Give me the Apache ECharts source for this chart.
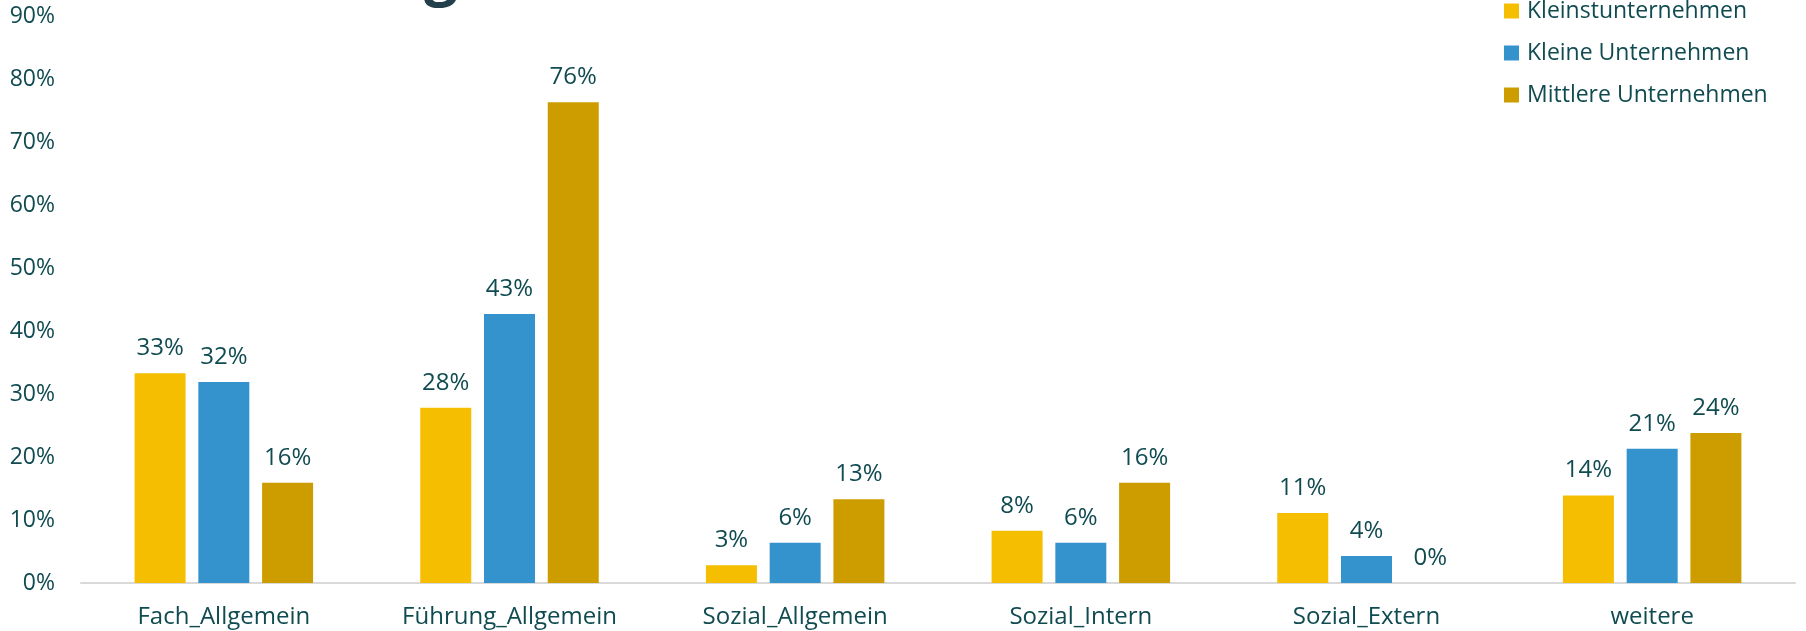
<!DOCTYPE html>
<html>
<head>
<meta charset="utf-8">
<script src="https://cdn.jsdelivr.net/npm/echarts@6/dist/echarts.min.js"></script>
<style>
  html, body { margin: 0; padding: 0; background: #fff; }
  #chart { width: 1806px; height: 631px; }
</style>
</head>
<body>
<div id="chart"></div>
<script>
const categories = ['Fach_Allgemein', 'Führung_Allgemein', 'Sozial_Allgemein', 'Sozial_Intern', 'Sozial_Extern', 'weitere']
const seriesNames = ['Kleinstunternehmen', 'Kleine Unternehmen', 'Mittlere Unternehmen']
const kleinst = [33.3, 27.8, 2.8, 8.3, 11.1, 13.9]
const kleine = [31.9, 42.7, 6.4, 6.4, 4.3, 21.3]
const mittlere = [15.9, 76.3, 13.3, 15.9, 0, 23.8]
const yTicks = [0, 10, 20, 30, 40, 50, 60, 70, 80, 90]

const textColor = '#0f4b50'
const font = '"Open Sans", "Noto Sans", sans-serif'
const colors = ['#f6be00', '#3493cd', '#cd9d00']

const chart = echarts.init(document.getElementById('chart'))

const makeSeries = (name, values, color) => ({
  name,
  type: 'bar',
  data: values,
  barWidth: 51,
  barGap: '25%',
  itemStyle: { color },
  label: {
    show: true,
    position: 'top',
    distance: 13,
    color: textColor,
    fontFamily: font,
    fontSize: 24,
    formatter: p => Math.round(p.value) + '%'
  }
})

const option = {
  animation: false,
  graphic: [
    {
      // cut-off title fragment at the top edge
      type: 'text',
      left: 424,
      top: -54,
      style: {
        text: 'g',
        fill: '#233f4b',
        font: 'bold 60px "Open Sans", sans-serif'
      }
    }
  ],
  legend: {
    orient: 'vertical',
    left: 1499,
    top: -6,
    itemWidth: 15,
    itemHeight: 15,
    itemGap: 18,
    icon: 'rect',
    data: seriesNames,
    textStyle: {
      color: textColor,
      fontFamily: font,
      fontSize: 23,
      lineHeight: 24,
      padding: [0, 0, 0, 3]
    }
  },
  grid: {
    left: 81,
    right: 11,
    top: 16,
    bottom: 48,
    containLabel: false
  },
  xAxis: {
    type: 'category',
    data: categories,
    axisLine: { lineStyle: { color: '#d9d9d9', width: 2 } },
    axisTick: { show: false },
    axisLabel: {
      color: textColor,
      fontFamily: font,
      fontSize: 24,
      margin: 22
    }
  },
  yAxis: {
    type: 'value',
    min: yTicks[0],
    max: yTicks[yTicks.length - 1],
    interval: 10,
    splitLine: { show: false },
    axisLine: { show: false },
    axisTick: { show: false },
    axisLabel: {
      color: textColor,
      fontFamily: font,
      fontSize: 23,
      margin: 26,
      formatter: '{value}%'
    }
  },
  series: [
    makeSeries(seriesNames[0], kleinst, colors[0]),
    makeSeries(seriesNames[1], kleine, colors[1]),
    makeSeries(seriesNames[2], mittlere, colors[2])
  ]
}

chart.setOption(option)
</script>
</body>
</html>
